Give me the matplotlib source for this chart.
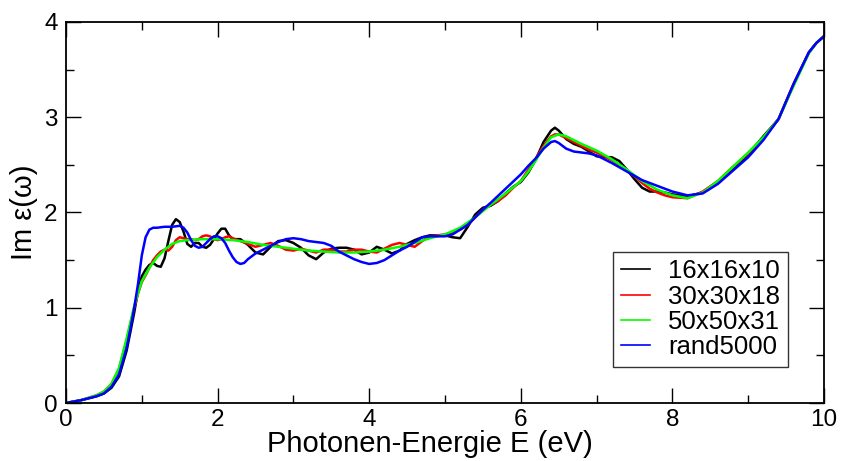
import matplotlib
matplotlib.use('Agg')
import matplotlib.pyplot as plt
from matplotlib.ticker import MultipleLocator

plt.rcParams['font.family'] = ['Liberation Sans', 'DejaVu Sans']

# 16x16x10 k-point mesh
e_black = [0, 0.2, 0.4, 0.5, 0.6, 0.7, 0.8, 0.9, 0.95, 1.0, 1.05, 1.1, 1.15, 1.2, 1.25, 1.3,
           1.35, 1.4, 1.45, 1.5, 1.55, 1.6, 1.65, 1.7, 1.75, 1.8, 1.85, 1.9, 1.95, 2.0, 2.05,
           2.1, 2.15, 2.2, 2.3, 2.4, 2.5, 2.6, 2.7, 2.8, 2.9, 3.0, 3.1, 3.2, 3.3, 3.4, 3.5,
           3.6, 3.7, 3.8, 3.9, 4.0, 4.1, 4.2, 4.3, 4.4, 4.5, 4.6, 4.7, 4.8, 4.9, 5.0, 5.1,
           5.2, 5.3, 5.4, 5.5, 5.6, 5.7, 5.8, 5.9, 6.0, 6.1, 6.2, 6.3, 6.4, 6.45, 6.5, 6.6,
           6.7, 6.8, 6.9, 7.0, 7.1, 7.2, 7.3, 7.4, 7.5, 7.6, 7.7, 7.8, 7.9, 8.0, 8.2, 8.4,
           8.6, 8.8, 9.0, 9.2, 9.4, 9.6, 9.8, 9.9, 10.0]
im_black = [0.0, 0.03, 0.07, 0.10, 0.16, 0.28, 0.55, 0.95, 1.18, 1.33, 1.40, 1.45, 1.47, 1.44,
            1.43, 1.52, 1.70, 1.87, 1.93, 1.90, 1.80, 1.67, 1.64, 1.68, 1.68, 1.64, 1.63, 1.66,
            1.72, 1.78, 1.83, 1.83, 1.76, 1.72, 1.72, 1.66, 1.58, 1.56, 1.64, 1.70, 1.71, 1.68,
            1.63, 1.55, 1.51, 1.58, 1.62, 1.63, 1.63, 1.61, 1.56, 1.58, 1.64, 1.61, 1.57, 1.60,
            1.67, 1.71, 1.74, 1.76, 1.76, 1.76, 1.74, 1.73, 1.85, 1.98, 2.05, 2.07, 2.12, 2.20,
            2.27, 2.32, 2.42, 2.56, 2.74, 2.86, 2.89, 2.86, 2.77, 2.72, 2.69, 2.64, 2.59, 2.58,
            2.58, 2.54, 2.45, 2.35, 2.26, 2.22, 2.22, 2.21, 2.19, 2.17, 2.21, 2.32, 2.45, 2.61,
            2.80, 2.98, 3.35, 3.68, 3.78, 3.85]

# 30x30x18 k-point mesh
e_red = [0, 0.2, 0.4, 0.5, 0.6, 0.7, 0.8, 0.9, 0.95, 1.0, 1.05, 1.1, 1.15, 1.2, 1.25, 1.3,
         1.35, 1.4, 1.45, 1.5, 1.55, 1.6, 1.65, 1.7, 1.75, 1.8, 1.85, 1.9, 1.95, 2.0, 2.05,
         2.1, 2.15, 2.2, 2.3, 2.4, 2.5, 2.6, 2.7, 2.8, 2.9, 3.0, 3.1, 3.2, 3.3, 3.4, 3.5,
         3.6, 3.7, 3.8, 3.9, 4.0, 4.1, 4.2, 4.3, 4.4, 4.5, 4.6, 4.7, 4.8, 4.9, 5.0, 5.1,
         5.2, 5.3, 5.4, 5.5, 5.6, 5.7, 5.8, 5.9, 6.0, 6.1, 6.2, 6.3, 6.4, 6.45, 6.5, 6.6,
         6.7, 6.8, 6.9, 7.0, 7.1, 7.2, 7.3, 7.4, 7.5, 7.6, 7.7, 7.8, 7.9, 8.0, 8.2, 8.4,
         8.6, 8.8, 9.0, 9.2, 9.4, 9.6, 9.8, 9.9, 10.0]
im_red = [0.0, 0.03, 0.08, 0.12, 0.20, 0.36, 0.66, 1.00, 1.15, 1.27, 1.34, 1.42, 1.50, 1.55,
          1.59, 1.61, 1.60, 1.64, 1.71, 1.74, 1.73, 1.72, 1.72, 1.71, 1.72, 1.75, 1.76, 1.75,
          1.72, 1.71, 1.72, 1.74, 1.75, 1.73, 1.70, 1.67, 1.64, 1.66, 1.68, 1.65, 1.61, 1.60,
          1.62, 1.60, 1.58, 1.61, 1.61, 1.59, 1.59, 1.61, 1.61, 1.59, 1.58, 1.62, 1.66, 1.68,
          1.66, 1.64, 1.70, 1.75, 1.76, 1.77, 1.79, 1.82, 1.87, 1.95, 2.03, 2.08, 2.12, 2.18,
          2.26, 2.33, 2.45, 2.57, 2.70, 2.80, 2.82, 2.82, 2.78, 2.74, 2.70, 2.66, 2.63, 2.59,
          2.55, 2.50, 2.44, 2.38, 2.31, 2.25, 2.21, 2.18, 2.16, 2.15, 2.22, 2.33, 2.48, 2.62,
          2.78, 2.98, 3.35, 3.68, 3.78, 3.85]

# 50x50x31 k-point mesh
e_green = [0, 0.2, 0.4, 0.5, 0.6, 0.7, 0.8, 0.9, 1.0, 1.1, 1.2, 1.3, 1.4, 1.5, 1.6, 1.8, 2.0,
           2.2, 2.4, 2.6, 2.8, 3.0, 3.2, 3.4, 3.6, 3.8, 4.0, 4.2, 4.4, 4.6, 4.8, 5.0, 5.2,
           5.4, 5.6, 5.8, 6.0, 6.1, 6.2, 6.3, 6.4, 6.5, 6.6, 6.8, 7.0, 7.2, 7.4, 7.6, 7.8,
           8.0, 8.2, 8.4, 8.6, 8.8, 9.0, 9.2, 9.4, 9.6, 9.8, 9.9, 10.0]
im_green = [0.0, 0.03, 0.08, 0.12, 0.20, 0.37, 0.68, 1.02, 1.28, 1.42, 1.53, 1.61, 1.67, 1.70,
            1.71, 1.72, 1.72, 1.71, 1.69, 1.66, 1.64, 1.62, 1.60, 1.59, 1.58, 1.58, 1.59, 1.61,
            1.64, 1.68, 1.73, 1.77, 1.84, 1.95, 2.08, 2.20, 2.33, 2.43, 2.55, 2.68, 2.79, 2.82,
            2.80, 2.72, 2.65, 2.56, 2.45, 2.33, 2.24, 2.18, 2.15, 2.21, 2.33, 2.48, 2.63, 2.79,
            2.98, 3.33, 3.67, 3.78, 3.85]

# 5000 random k-points
e_blue = [0, 0.2, 0.4, 0.5, 0.6, 0.7, 0.8, 0.85, 0.9, 0.95, 1.0, 1.05, 1.1, 1.15, 1.2, 1.3,
          1.4, 1.5, 1.55, 1.6, 1.65, 1.7, 1.75, 1.8, 1.85, 1.9, 1.95, 2.0, 2.05, 2.1, 2.15,
          2.2, 2.25, 2.3, 2.35, 2.4, 2.5, 2.6, 2.7, 2.8, 2.9, 3.0, 3.1, 3.2, 3.3, 3.4, 3.5,
          3.6, 3.7, 3.8, 3.9, 4.0, 4.1, 4.2, 4.3, 4.4, 4.5, 4.6, 4.7, 4.8, 4.9, 5.0, 5.1,
          5.2, 5.3, 5.4, 5.5, 5.6, 5.8, 6.0, 6.1, 6.2, 6.3, 6.4, 6.45, 6.5, 6.6, 6.7, 6.8,
          6.9, 7.0, 7.1, 7.2, 7.4, 7.6, 7.8, 8.0, 8.2, 8.4, 8.6, 8.8, 9.0, 9.2, 9.4, 9.6,
          9.8, 9.9, 10.0]
im_blue = [0.0, 0.03, 0.07, 0.10, 0.17, 0.30, 0.58, 0.78, 1.00, 1.25, 1.55, 1.74, 1.82, 1.84,
           1.84, 1.85, 1.85, 1.86, 1.84, 1.79, 1.71, 1.65, 1.63, 1.64, 1.68, 1.72, 1.75, 1.75,
           1.73, 1.68, 1.60, 1.53, 1.48, 1.46, 1.47, 1.51, 1.57, 1.61, 1.65, 1.69, 1.72, 1.73,
           1.72, 1.70, 1.69, 1.68, 1.65, 1.59, 1.55, 1.51, 1.48, 1.46, 1.47, 1.50, 1.55, 1.60,
           1.64, 1.69, 1.74, 1.75, 1.75, 1.75, 1.77, 1.82, 1.87, 1.95, 2.03, 2.10, 2.25, 2.40,
           2.49, 2.57, 2.67, 2.74, 2.75, 2.73, 2.67, 2.64, 2.63, 2.62, 2.60, 2.56, 2.52, 2.43,
           2.34, 2.28, 2.22, 2.18, 2.20, 2.30, 2.44, 2.58, 2.76, 2.98, 3.35, 3.68, 3.78, 3.85]

series = [
    ('16x16x10', e_black, im_black, '#000000'),
    ('30x30x18', e_red, im_red, '#ff0000'),
    ('50x50x31', e_green, im_green, '#00ff00'),
    ('rand5000', e_blue, im_blue, '#0000ff'),
]


def main() -> None:
    fig = plt.figure(figsize=(8.42, 4.61), dpi=100)
    ax = fig.add_axes([0.0784, 0.1258, 0.9002, 0.8265])

    for label, x, y, color in series:
        ax.plot(x, y, color=color, lw=1.8, label=label, solid_joinstyle='round')

    ax.set_xlim(0, 10)
    ax.set_ylim(0, 4)
    ax.xaxis.set_major_locator(MultipleLocator(2))
    ax.xaxis.set_minor_locator(MultipleLocator(1))
    ax.yaxis.set_major_locator(MultipleLocator(1))
    ax.yaxis.set_minor_locator(MultipleLocator(0.5))
    ax.tick_params(which='both', direction='in', top=True, right=True,
                   labelsize=17.5, width=1.0, pad=4)
    ax.tick_params(axis='y', pad=6)
    ax.tick_params(which='major', length=10.5)
    ax.tick_params(which='minor', length=5.5)
    for sp in ax.spines.values():
        sp.set_linewidth(1.3)

    ax.set_xlabel('Photonen-Energie E (eV)', fontsize=21)
    ax.xaxis.set_label_coords(0.48, -0.071)
    ax.set_ylabel('Im ε(ω)', fontsize=21, labelpad=4)

    leg = ax.legend(loc='lower right', bbox_to_anchor=(0.9525, 0.0945), fontsize=18.5,
                    frameon=True, fancybox=False, shadow=False, handlelength=1.15,
                    handletextpad=0.7, borderpad=0.3, labelspacing=0.05, borderaxespad=0)
    leg.get_frame().set_edgecolor('black')
    leg.get_frame().set_linewidth(1.0)
    for h in leg.get_lines():
        h.set_linewidth(1.2)

    fig.savefig('out.png', dpi=100)
    plt.close(fig)


if __name__ == '__main__':
    main()
